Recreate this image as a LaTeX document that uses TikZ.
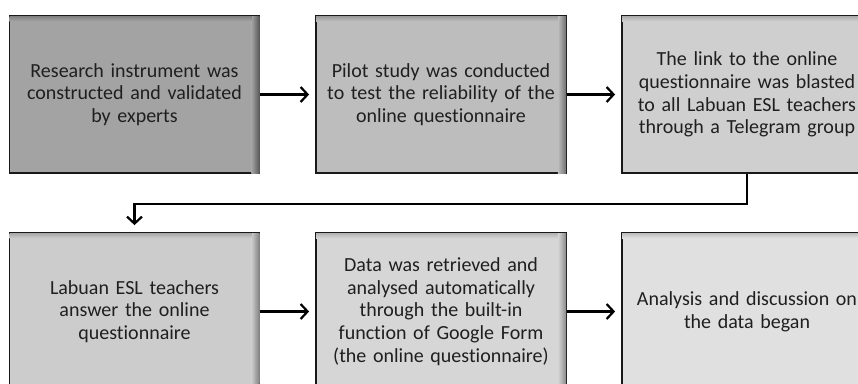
\documentclass[tikz,border=0pt]{standalone}
\usepackage{fontspec}
\setmainfont[Ligatures=NoCommon]{Carlito}
\usetikzlibrary{arrows.meta}

\begin{document}
\begin{tikzpicture} [
                x=1pt, y=-1pt,
                stepbox/.style = {draw=black!90, line width=1.8pt, minimum width=250pt,
                                  minimum height=157pt, inner sep=0pt, text width=236pt,
                                  align=center, text=black!88, font=\fontsize{20}{22.6}\selectfont},
                flow/.style = {draw, line width=2.2pt, -{Straight Barb[length=7pt,width=15pt,line width=2.2pt]},
                               shorten >=6pt}
            ]
            \useasboundingbox (0,0) rectangle (858,383);
            \clip (0,0) rectangle (858,383);
            % the six steps, row by row, with a dark edge inside at top and right
            \foreach \pos/\name/\tone/\txt in {
                {(134.5,94.5)/research/36/Research instrument was\\constructed and validated\\by experts},
                {(441,94.5)/pilot/26/Pilot study was conducted\\to test the reliability of the\\online questionnaire},
                {(747,94.5)/link/19/The link to the online\\questionnaire was blasted\\to all Labuan ESL teachers\\through a Telegram group},
                {(134.5,311.5)/answer/20/Labuan ESL teachers\\answer the online\\questionnaire},
                {(441,311.5)/retrieve/16/Data was retrieved and\\analysed automatically\\through the built-in\\function of Google Form\\(the online questionnaire)},
                {(747,311.5)/discuss/12/Analysis and discussion on\\the data began}}
            {
                \pgfmathtruncatemacro\edge{\tone+30}
                \pgfmathtruncatemacro\rim{\tone+14}
                \node[stepbox, fill=black!\tone] (\name) at \pos {\txt};
                \shade[left color=black!\tone, right color=black!\edge]
                    ([xshift=-9pt,yshift=-0.9pt]\name.north east) rectangle ([xshift=-0.9pt,yshift=0.9pt]\name.south east);
                \shade[bottom color=black!\tone, top color=black!\rim]
                    ([xshift=0.9pt,yshift=-0.9pt]\name.north west) rectangle ([xshift=-9pt,yshift=-6pt]\name.north east);
            }
            % arrows between the steps
            \foreach \source/\dest in {research/pilot, pilot/link, answer/retrieve, retrieve/discuss}
                \path[flow] (\source) -- (\dest);
            \path[flow, shorten >=7pt] (link.south) -- ++(0,30) -| (answer.north);
        \end{tikzpicture}
\end{document}
